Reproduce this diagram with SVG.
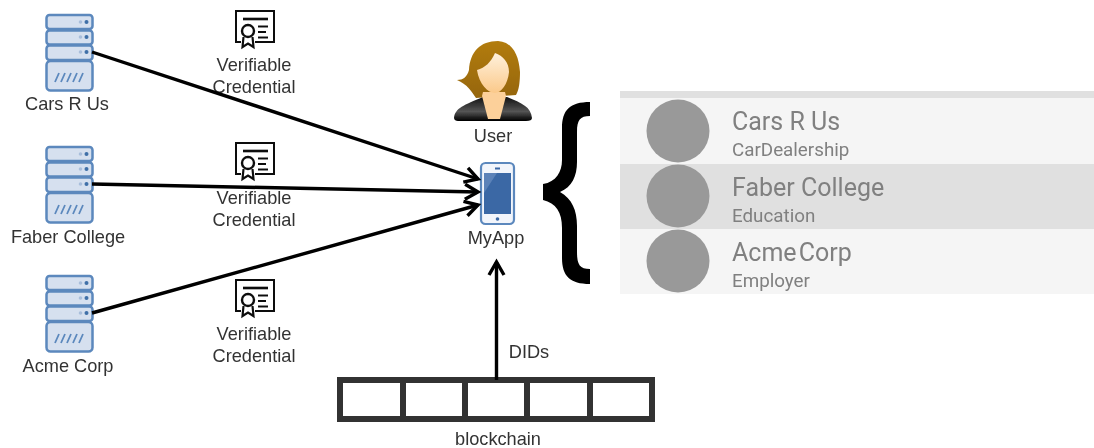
<svg xmlns="http://www.w3.org/2000/svg" width="1094" height="448" viewBox="0 0 1094 448">
<style>
text{font-family:"Liberation Sans",Arial,sans-serif;font-size:18.2px;fill:#333;text-anchor:middle}
.t{font-family:Roboto,sans-serif;font-size:25px;fill:#808080;text-anchor:start}
.s{font-family:Roboto,sans-serif;font-size:18.8px;fill:#808080;text-anchor:start}
.c{fill:#999}
.srv{fill:#d6e0ef;stroke:#5b88bd;stroke-width:2.500}
.conn{fill:none;stroke:#000;stroke-width:3.400;marker-end:url(#a)}
.cell{fill:#fff;stroke:#333;stroke-width:6}
svg>g{filter:url(#soft)}
</style>
<defs>
<filter id="soft" x="-5%" y="-5%" width="110%" height="110%"><feGaussianBlur stdDeviation="0.4"/></filter>
<linearGradient id="hair" x1="0" y1="0" x2="0" y2="1"><stop offset="0" stop-color="#b27c10"/><stop offset="1" stop-color="#96660f"/></linearGradient>
<linearGradient id="skin" x1="0" y1="0" x2="0" y2="1"><stop offset="0" stop-color="#fff1dc"/><stop offset="1" stop-color="#fbc98a"/></linearGradient>
<linearGradient id="suit" x1="0" y1="0" x2="0" y2="1"><stop offset="0" stop-color="#111"/><stop offset=".6" stop-color="#555"/><stop offset="1" stop-color="#000"/></linearGradient>
<marker id="a" markerUnits="userSpaceOnUse" markerWidth="24" markerHeight="24" refX="20" refY="12" orient="auto"><path d="M7 4.500L20 12L7 19.500" fill="none" stroke="#000" stroke-width="3.400"/></marker>
<g id="server">
<rect class="srv" x="46.500" y="15" width="46" height="14" rx="3"/>
<rect class="srv" x="46.500" y="30.500" width="46" height="14" rx="3"/>
<rect class="srv" x="46.500" y="45.500" width="46" height="14.500" rx="3"/>
<rect class="srv" x="46.500" y="61" width="46" height="29.500" rx="4"/>
<g fill="#3f6fa8"><circle cx="86.500" cy="22" r="2"/><circle cx="86.500" cy="37" r="2"/><circle cx="86.500" cy="52" r="2"/></g>
<g fill="#a9bedb"><circle cx="80.500" cy="22" r="1.800"/><circle cx="80.500" cy="37" r="1.800"/><circle cx="80.500" cy="52" r="1.800"/></g>
<path d="M55 82l4-9M61 82l4-9M67 82l4-9M73 82l4-9M79 82l4-9" stroke="#5b88bd" stroke-width="1.800" fill="none"/>
</g>
<g id="cert" fill="none" stroke="#111">
<path d="M241 42H236V11H274V42H255" stroke-width="2"/>
<path d="M243 19H268" stroke-width="2.600"/>
<path d="M258 26.500H268M258 32H266M258 37.500H268" stroke-width="1.800"/>
<circle cx="248" cy="31" r="6" stroke-width="2.400"/>
<path d="M243.500 37L242.500 47L248 43.500L253.500 47L252.500 37" stroke-width="2.200"/>
</g>
</defs>
<rect width="1094" height="448" fill="#fff"/>

<g id="list">
<rect x="620" y="91" width="474" height="7" fill="#e0e0e0"/>
<rect x="620" y="98" width="474" height="66" fill="#f5f5f5"/>
<rect x="620" y="164" width="474" height="65" fill="#e0e0e0"/>
<rect x="620" y="229" width="474" height="65" fill="#f5f5f5"/>
<circle class="c" cx="678" cy="131" r="31.500"/>
<circle class="c" cx="678" cy="196" r="31.500"/>
<circle class="c" cx="678" cy="261" r="31.500"/>
<text class="t" x="732" y="130">Cars R Us</text>
<text class="s" x="732" y="156">CarDealership</text>
<text class="t" x="732" y="196">Faber College</text>
<text class="s" x="732" y="222">Education</text>
<text class="t" x="732" y="261" word-spacing="-4">Acme Corp</text>
<text class="s" x="732" y="287">Employer</text>
</g>

<g id="cars"><use href="#server"/><text x="67" y="110">Cars R Us</text></g>
<g id="faber"><use href="#server" y="132"/><text x="68" y="243">Faber College</text></g>
<g id="acme"><use href="#server" y="261"/><text x="68" y="372">Acme Corp</text></g>

<g id="vc1"><use href="#cert"/><text x="254" y="71">Verifiable</text><text x="254" y="93">Credential</text></g>
<g id="vc2"><use href="#cert" y="132"/><text x="254" y="204">Verifiable</text><text x="254" y="226">Credential</text></g>
<g id="vc3"><use href="#cert" y="269"/><text x="254" y="340">Verifiable</text><text x="254" y="362">Credential</text></g>

<g id="user">
<path d="M457 80C463 80 467 77 469 70C470 52 480 41 498 41C513 42 519 56 520 72C520 82 519 90 516 95L476 98C472 92 467 84 457 80Z" fill="url(#hair)"/>
<path d="M454 118C455 108 464 105 483 97L507 97C522 103 531 107 532 118C532 120 530 121 526 121H458C456 121 454 120 454 118Z" fill="url(#suit)"/>
<path d="M483 92L505 92L506 96L500 119H488L482 96Z" fill="#fcd09a"/>
<path d="M495 53C503 56 509 62 509 72C508 84 501 93 495 93C488 93 479 84 477 70C485 68 491 62 495 53Z" fill="url(#skin)"/>
<text x="493" y="142">User</text>
</g>

<g id="myapp">
<rect x="481" y="163" width="33" height="61" rx="4.500" fill="#f2f5fb" stroke="#5b88bd" stroke-width="2.200"/>
<rect x="484" y="173" width="27" height="41" fill="#3a67a5"/>
<path d="M484 173H497L484 193Z" fill="#5b82b8"/>
<rect x="495" y="167.500" width="5" height="2" fill="#3a67a5"/>
<circle cx="497.500" cy="219" r="1.800" fill="#3a67a5"/>
<text x="496" y="244" word-spacing="-1">MyApp</text>
</g>

<g id="brace"><path d="M590 102C570 102 562 110 562 128V160C562 172 556 182 543 184V200C556 203 562 212 562 228V258C562 276 570 284 590 284V269C580 269 577 265 577 252V226C577 210 572 199 560 192C572 187 577 176 577 162V132C577 120 580 116 590 116Z" fill="#000"/></g>

<g id="blockchain">
<rect class="cell" x="340" y="380" width="63" height="39"/>
<rect class="cell" x="403" y="380" width="62" height="39"/>
<rect class="cell" x="465" y="380" width="62" height="39"/>
<rect class="cell" x="527" y="380" width="63" height="39"/>
<rect class="cell" x="590" y="380" width="62" height="39"/>
<text x="498" y="445">blockchain</text>
</g>
<g id="dids"><text x="529" y="358">DIDs</text></g>

<g id="connectors">
<path class="conn" d="M92 52L478 179"/>
<path class="conn" d="M92 184L478 192"/>
<path class="conn" d="M92 313L478 205"/>
<path class="conn" d="M496.500 380V262"/>
</g>
</svg>
